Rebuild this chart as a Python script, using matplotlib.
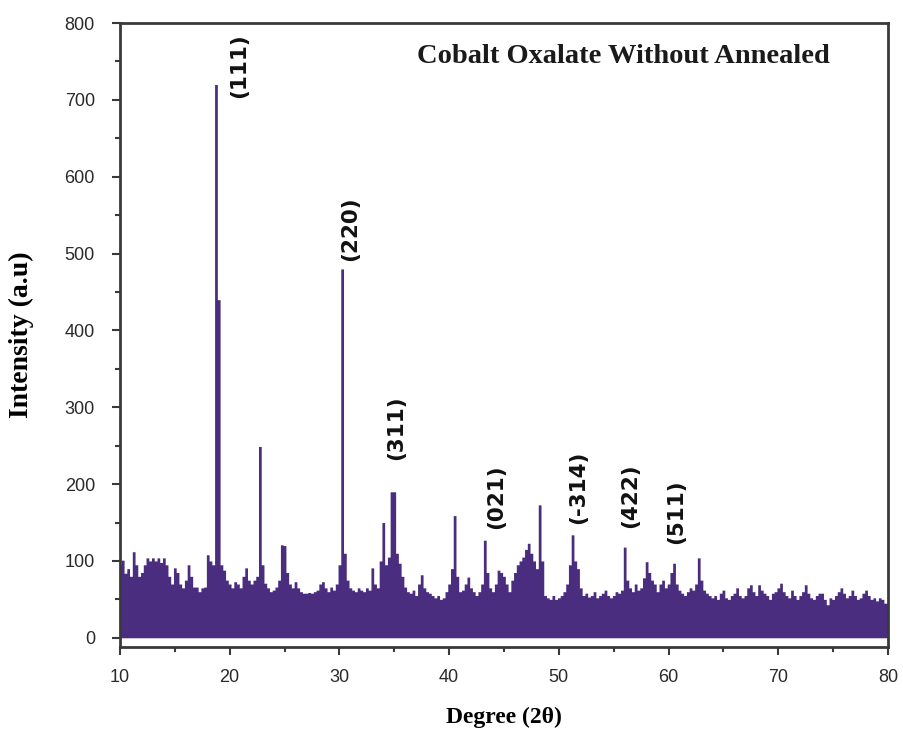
import numpy as np
import matplotlib
matplotlib.use("Agg")
import matplotlib.pyplot as plt
from matplotlib.ticker import MultipleLocator

# 2-theta grid, 0.25 degree step
two_theta = np.arange(10, 80.001, 0.25)

# upper envelope of the pattern, one row per degree
intensity = [
    95, 101, 84, 90,      # 10
    80, 112, 95, 80,      # 11
    85, 95, 104, 100,     # 12
    104, 100, 104, 98,    # 13
    104, 95, 80, 70,      # 14
    91, 85, 70, 65,       # 15
    75, 95, 80, 66,       # 16
    66, 60, 65, 66,       # 17
    108, 100, 95, 720,    # 18
    440, 95, 88, 75,      # 19
    70, 65, 73, 70,       # 20
    65, 80, 91, 75,       # 21
    70, 75, 80, 249,      # 22
    95, 71, 65, 60,       # 23
    62, 66, 75, 121,      # 24
    120, 85, 70, 65,      # 25
    73, 65, 60, 58,       # 26
    58, 59, 58, 60,       # 27
    62, 70, 73, 65,       # 28
    60, 66, 62, 70,       # 29
    95, 480, 110, 75,     # 30
    65, 62, 60, 65,       # 31
    62, 60, 65, 62,       # 32
    91, 70, 65, 100,      # 33
    150, 95, 105, 190,    # 34
    190, 110, 97, 80,     # 35
    66, 60, 58, 62,       # 36
    55, 70, 82, 65,       # 37
    60, 58, 55, 52,       # 38
    55, 50, 52, 60,       # 39
    70, 90, 159, 80,      # 40
    60, 62, 70, 79,       # 41
    65, 60, 55, 60,       # 42
    70, 127, 85, 65,      # 43
    60, 70, 88, 85,       # 44
    80, 70, 60, 75,       # 45
    85, 95, 100, 105,     # 46
    115, 123, 110, 100,   # 47
    90, 173, 100, 55,     # 48
    52, 50, 55, 50,       # 49
    52, 55, 60, 70,       # 50
    95, 134, 100, 90,     # 51
    65, 55, 58, 53,       # 52
    55, 60, 52, 55,       # 53
    58, 62, 55, 52,       # 54
    55, 60, 58, 62,       # 55
    118, 75, 65, 60,      # 56
    70, 62, 65, 78,       # 57
    99, 85, 75, 70,       # 58
    60, 70, 75, 65,       # 59
    70, 85, 97, 70,       # 60
    62, 58, 55, 60,       # 61
    65, 62, 70, 104,      # 62
    75, 62, 58, 55,       # 63
    52, 55, 50, 58,       # 64
    62, 52, 50, 55,       # 65
    58, 65, 55, 52,       # 66
    55, 65, 69, 60,       # 67
    55, 69, 62, 58,       # 68
    55, 50, 58, 60,       # 69
    65, 71, 60, 55,       # 70
    52, 62, 55, 50,       # 71
    55, 60, 69, 58,       # 72
    52, 50, 55, 58,       # 73
    58, 50, 43, 52,       # 74
    50, 55, 60, 65,       # 75
    58, 52, 55, 62,       # 76
    55, 50, 52, 58,       # 77
    62, 55, 50, 52,       # 78
    48, 52, 50, 45,       # 79
    45,                   # 80
]

# miller indices and where their labels sit
hkl_labels = ["(111)", "(220)", "(311)", "(021)", "(-314)", "(422)", "(511)"]
hkl_x = [20.9, 31.0, 35.2, 44.3, 51.75, 56.5, 60.7]
hkl_y = [745, 533, 273, 183, 196, 185, 164]

fill_color = "#4a2d7e"
spine_color = "#3a3a3a"


def style_axes(ax):
    ax.set_xlim(10, 80)
    ax.set_ylim(-12, 800)
    ax.xaxis.set_major_locator(MultipleLocator(10))
    ax.xaxis.set_minor_locator(MultipleLocator(5))
    ax.yaxis.set_major_locator(MultipleLocator(100))
    ax.yaxis.set_minor_locator(MultipleLocator(50))

    for side in ax.spines.values():
        side.set_linewidth(2)
        side.set_color(spine_color)

    ax.tick_params(
        which="major",
        direction="out",
        length=6,
        width=1.5,
        color=spine_color,
        labelsize=13,
        labelcolor="#2a2a2a"
    )
    ax.tick_params(axis="y", which="major", pad=12)
    ax.tick_params(axis="x", which="major", pad=10)
    ax.tick_params(
        which="minor",
        direction="out",
        length=3.5,
        width=1.5,
        color=spine_color
    )
    for lab in ax.get_xticklabels() + ax.get_yticklabels():
        lab.set_family("Liberation Sans")


def main():
    fig = plt.figure(figsize=(9.04, 7.31), dpi=100)
    ax = fig.add_axes([0.1327, 0.1149, 0.8496, 0.8536])

    ax.fill_between(
        two_theta,
        0,
        intensity,
        step="mid",
        color=fill_color,
        linewidth=0
    )

    style_axes(ax)

    for text, x, y in zip(hkl_labels, hkl_x, hkl_y):
        ax.text(
            x, y, text,
            rotation=90,
            ha="center",
            va="center",
            fontsize=15.5,
            fontweight="bold",
            family="DejaVu Sans",
            color="#111111"
        )

    ax.text(
        0.656, 0.946,
        "Cobalt Oxalate Without Annealed",
        transform=ax.transAxes,
        ha="center",
        va="center",
        fontsize=20.5,
        fontweight="bold",
        family="Liberation Serif",
        color="#1a1a1a"
    )

    ax.set_xlabel(
        "Degree (2θ)",
        fontsize=17,
        fontweight="bold",
        family="Liberation Serif",
        labelpad=15
    )
    ax.set_ylabel(
        "Intensity (a.u)",
        fontsize=20,
        fontweight="bold",
        family="Liberation Serif",
        labelpad=22
    )

    fig.savefig("out.png", dpi=100)


main()
